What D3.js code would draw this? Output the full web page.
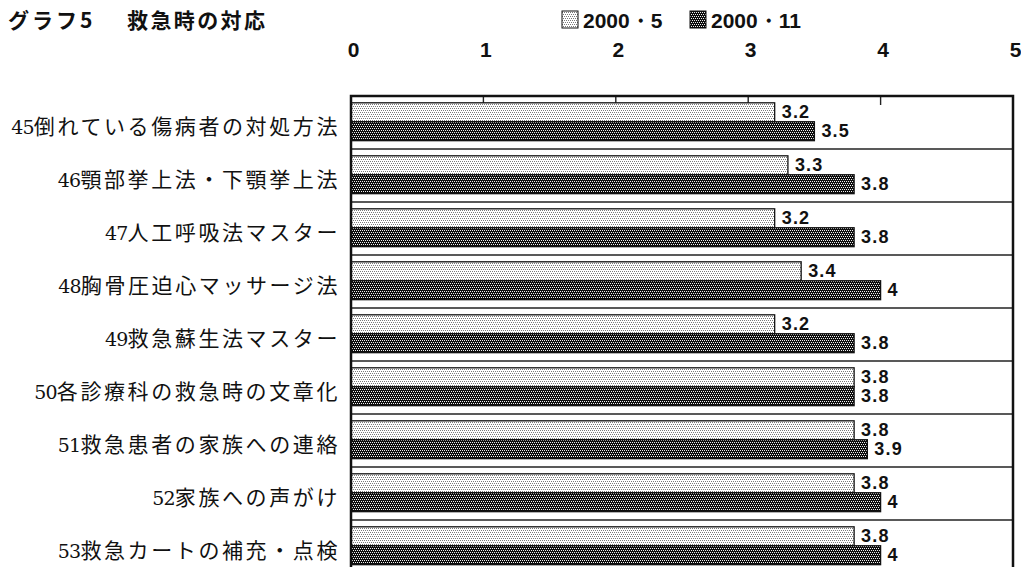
<!DOCTYPE html>
<html lang="ja">
<head>
<meta charset="utf-8">
<script src="https://cdn.jsdelivr.net/npm/d3@7"></script>
<style>
  html, body { margin: 0; padding: 0; background: #fff; }
  svg { display: block; }
</style>
</head>
<body>
<svg id="chart" width="1021" height="567"></svg>
<script>
// 救急時の対応：項目別の平均評価（2000年5月・11月）
const itemNumbers = ["45","46","47","48","49","50","51","52","53"];
const itemNames = [
  "倒れている傷病者の対処方法",
  "顎部挙上法・下顎挙上法",
  "人工呼吸法マスター",
  "胸骨圧迫心マッサージ法",
  "救急蘇生法マスター",
  "各診療科の救急時の文章化",
  "救急患者の家族への連絡",
  "家族への声がけ",
  "救急カートの補充・点検"
];
const seriesNames = ["2000・5", "2000・11"];
const valuesMay = [3.2, 3.3, 3.2, 3.4, 3.2, 3.8, 3.8, 3.8, 3.8];
const valuesNov = [3.5, 3.8, 3.8, 4, 3.8, 3.8, 3.9, 4, 4];
const tickValues = [0, 1, 2, 3, 4, 5];
const titleNumber = "グラフ5";
const titleText = "救急時の対応";

const rows = itemNumbers.map((n, i) => ({
  key: n,
  name: itemNames[i],
  values: [valuesMay[i], valuesNov[i]]
}));

const svg = d3.select("#chart");
const plot = { left: 351, right: 1013, top: 96, bottom: 573 };

const x = d3.scaleLinear().domain([0, 5]).range([plot.left, plot.right]);
const y = d3.scaleBand().domain(itemNumbers).range([plot.top, plot.bottom]).padding(0);
const ySub = d3.scaleBand().domain([0, 1]).range([0, y.bandwidth()])
  .paddingInner(0).paddingOuter(0.4).align(0.45);

// 網掛けパターン
const defs = svg.append("defs");
const light = defs.append("pattern").attr("id", "patLight")
  .attr("patternUnits", "userSpaceOnUse").attr("width", 4).attr("height", 4);
light.append("rect").attr("width", 4).attr("height", 4).attr("fill", "#fff");
[[0,0],[2,0],[1,2],[3,2]].forEach(([px, py]) =>
  light.append("rect").attr("x", px).attr("y", py).attr("width", 1).attr("height", 1).attr("fill", "#7a7a7a"));

const dark = defs.append("pattern").attr("id", "patDark")
  .attr("patternUnits", "userSpaceOnUse").attr("width", 4).attr("height", 4);
dark.append("rect").attr("width", 4).attr("height", 4).attr("fill", "#0d0d0d");
[[0,0],[2,0],[1,2],[3,2]].forEach(([px, py]) =>
  dark.append("rect").attr("x", px).attr("y", py).attr("width", 1).attr("height", 1).attr("fill", "#f0f0f0"));

const fills = ["url(#patLight)", "url(#patDark)"];

// タイトル
const titleFont = "'Noto Sans CJK JP', sans-serif";
svg.append("text")
  .attr("x", 8).attr("y", 28)
  .attr("font-family", titleFont)
  .attr("font-weight", "bold").attr("font-size", 21)
  .attr("letter-spacing", 3)
  .attr("fill", "#111")
  .text(titleNumber);
svg.append("text")
  .attr("x", 127).attr("y", 28)
  .attr("font-family", titleFont)
  .attr("font-weight", "bold").attr("font-size", 21)
  .attr("letter-spacing", 2.4)
  .attr("fill", "#111")
  .text(titleText);

// 凡例
const legendX = [562, 690];
const legend = svg.append("g");
seriesNames.forEach((s, i) => {
  legend.append("rect")
    .attr("x", legendX[i]).attr("y", 11).attr("width", 16).attr("height", 17)
    .attr("fill", fills[i]).attr("stroke", "#111").attr("stroke-width", 1);
  legend.append("text")
    .attr("x", legendX[i] + 21).attr("y", 28)
    .attr("font-family", "'Liberation Sans', Arial, sans-serif")
    .attr("font-weight", "bold").attr("font-size", 21)
    .attr("fill", "#111")
    .text(s);
});

// 目盛ラベル（上側）
const axisTop = d3.axisTop(x).tickValues(tickValues).tickFormat(d3.format("d")).tickSize(0).tickPadding(0);
const axisG = svg.append("g").attr("transform", `translate(2,${57})`).call(axisTop);
axisG.select(".domain").remove();
axisG.selectAll("text")
  .attr("font-family", "'Liberation Sans', Arial, sans-serif")
  .attr("font-weight", "bold").attr("font-size", 21)
  .attr("fill", "#111");

// 行の区切り線
svg.append("g").selectAll("line")
  .data(itemNumbers.slice(1))
  .join("line")
  .attr("x1", plot.left).attr("x2", plot.right)
  .attr("y1", d => y(d)).attr("y2", d => y(d))
  .attr("stroke", "#222").attr("stroke-width", 1.4);

// 内向きの目盛線
svg.append("g").selectAll("line")
  .data(tickValues.slice(1, -1))
  .join("line")
  .attr("x1", d => x(d)).attr("x2", d => x(d))
  .attr("y1", plot.top).attr("y2", plot.top + 9)
  .attr("stroke", "#222").attr("stroke-width", 1.4);

// 棒
const rowG = svg.append("g").selectAll("g")
  .data(rows)
  .join("g")
  .attr("transform", d => `translate(0,${y(d.key)})`);

rowG.selectAll("rect")
  .data(d => d.values.map((v, i) => ({ v, i })))
  .join("rect")
  .attr("x", x(0))
  .attr("y", d => ySub(d.i))
  .attr("width", d => x(d.v) - x(0))
  .attr("height", ySub.bandwidth())
  .attr("fill", d => fills[d.i])
  .attr("stroke", "#111").attr("stroke-width", 1.3);

// 値ラベル
rowG.selectAll("text.val")
  .data(d => d.values.map((v, i) => ({ v, i })))
  .join("text")
  .attr("class", "val")
  .attr("x", d => x(d.v) + 7)
  .attr("y", d => ySub(d.i) + ySub.bandwidth() / 2 + 6)
  .attr("font-family", "'Liberation Sans', Arial, sans-serif")
  .attr("font-weight", "bold").attr("font-size", 18)
  .attr("letter-spacing", 1.2)
  .attr("fill", "#111")
  .text(d => d3.format("")(d.v));

// 項目ラベル
const labels = svg.append("g").selectAll("text")
  .data(rows)
  .join("text")
  .attr("x", 340)
  .attr("y", d => y(d.key) + y.bandwidth() / 2 + 11)
  .attr("text-anchor", "end")
  .attr("fill", "#111");
labels.append("tspan")
  .attr("font-family", "'DejaVu Serif', serif")
  .attr("font-size", 19)
  .attr("letter-spacing", -0.8)
  .text(d => d.key);
labels.append("tspan")
  .attr("font-family", "'Noto Sans CJK JP', sans-serif")
  .attr("font-size", 21)
  .attr("letter-spacing", 2.6)
  .text(d => d.name);

// 枠線
svg.append("path")
  .attr("d", `M${plot.left},${plot.bottom}V${plot.top}H${plot.right}V${plot.bottom}`)
  .attr("fill", "none").attr("stroke", "#111").attr("stroke-width", 2.5);
</script>
</body>
</html>
